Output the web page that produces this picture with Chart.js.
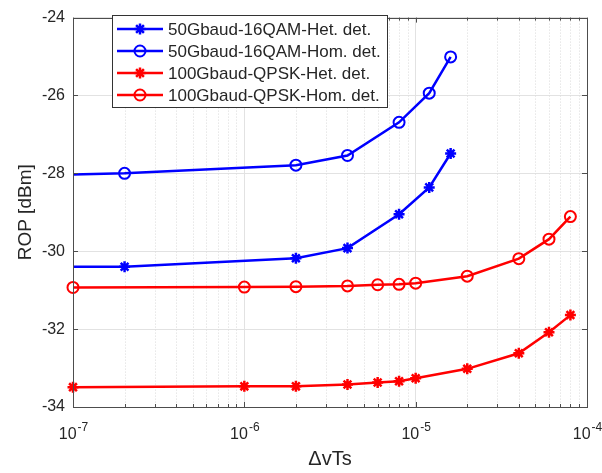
<!DOCTYPE html>
<html>
<head>
<meta charset="utf-8">
<script src="https://cdn.jsdelivr.net/npm/chart.js@4"></script>
<style>
  html, body { margin: 0; padding: 0; background: #fff; }
  canvas { display: block; }
</style>
</head>
<body>
<canvas id="chart" width="602" height="473"></canvas>
<script>
// Data (x = ΔvTs, y = ROP in dBm)
const qamX = [1e-8, 2e-7, 2e-6, 4e-6, 8e-6, 1.2e-5, 1.6e-5];
const qamHet = [-30.40, -30.40, -30.18, -29.92, -29.05, -28.36, -27.49];
const qamHom = [-28.13, -28.00, -27.79, -27.54, -26.69, -25.94, -25.01];

const qpskX = [1e-7, 1e-6, 2e-6, 4e-6, 6e-6, 8e-6, 1e-5, 2e-5, 4e-5, 6e-5, 8e-5];
const qpskHet = [-33.49, -33.47, -33.47, -33.42, -33.37, -33.34, -33.26, -33.02, -32.62, -32.08, -31.64];
const qpskHom = [-30.93, -30.92, -30.91, -30.89, -30.86, -30.85, -30.82, -30.64, -30.19, -29.69, -29.11];

const seriesLabels = [
    '50Gbaud-16QAM-Het. det.',
    '50Gbaud-16QAM-Hom. det.',
    '100Gbaud-QPSK-Het. det.',
    '100Gbaud-QPSK-Hom. det.'
];

const xDecades = [1e-7, 1e-6, 1e-5, 1e-4];
const yTicks = [-34, -32, -30, -28, -26, -24];

const FONT = '"Liberation Sans", Arial, Helvetica, sans-serif';
const TEXT = '#262626';
const GRID = '#e2e2e2';
const BLUE = '#0000ff';
const RED = '#ff0000';

const toPoints = (xs, ys) => xs.map((x, i) => ({ x: x, y: ys[i] }));

function series(label, xs, ys, color, style, clip) {
    return {
        label: label,
        data: toPoints(xs, ys),
        borderColor: color,
        backgroundColor: color,
        borderWidth: 2.5,
        pointStyle: style,
        pointRadius: style === 'circle' ? 5.5 : 5.5,
        pointBorderWidth: style === 'circle' ? 2 : 2.5,
        pointBackgroundColor: style === 'circle' ? 'rgba(0,0,0,0)' : color,
        pointBorderColor: color,
        tension: 0,
        fill: false,
        clip: clip
    };
}

// MATLAB-like box, inward ticks, dotted minor grid
const axesBox = {
    id: 'axesBox',
    beforeDatasetsDraw(chart) {
        const ctx = chart.ctx;
        const a = chart.chartArea;
        const xs = chart.scales.x;
        ctx.save();
        ctx.strokeStyle = '#dadada';
        ctx.lineWidth = 1;
        ctx.setLineDash([1, 2]);
        for (let n = -7; n <= -5; n++) {
            for (let k = 2; k <= 9; k++) {
                const px = Math.round(xs.getPixelForValue(k * Math.pow(10, n))) + 0.5;
                ctx.beginPath();
                ctx.moveTo(px, a.top);
                ctx.lineTo(px, a.bottom);
                ctx.stroke();
            }
        }
        ctx.restore();
    },
    afterDatasetsDraw(chart) {
        const ctx = chart.ctx;
        const a = chart.chartArea;
        const xs = chart.scales.x;
        const ys = chart.scales.y;
        ctx.save();
        ctx.strokeStyle = '#4d4d4d';
        ctx.lineWidth = 1;
        ctx.beginPath();
        for (let n = -7; n <= -5; n++) {
            for (let k = 2; k <= 9; k++) {
                const px = Math.round(xs.getPixelForValue(k * Math.pow(10, n))) + 0.5;
                ctx.moveTo(px, a.bottom); ctx.lineTo(px, a.bottom - 3);
                ctx.moveTo(px, a.top); ctx.lineTo(px, a.top + 3);
            }
        }
        xDecades.forEach(v => {
            const px = Math.round(xs.getPixelForValue(v)) + 0.5;
            ctx.moveTo(px, a.bottom); ctx.lineTo(px, a.bottom - 5);
            ctx.moveTo(px, a.top); ctx.lineTo(px, a.top + 5);
        });
        yTicks.forEach(v => {
            const py = Math.round(ys.getPixelForValue(v)) + 0.5;
            ctx.moveTo(a.left, py); ctx.lineTo(a.left + 5, py);
            ctx.moveTo(a.right, py); ctx.lineTo(a.right - 5, py);
        });
        ctx.stroke();
        ctx.strokeRect(Math.round(a.left) + 0.5, Math.round(a.top) + 0.5,
            Math.round(a.right - a.left), Math.round(a.bottom - a.top));

        // x tick labels as 10^n with superscript exponent
        ctx.fillStyle = TEXT;
        ctx.textBaseline = 'alphabetic';
        ctx.textAlign = 'left';
        xDecades.forEach(v => {
            const px = xs.getPixelForValue(v);
            const exp = String(Math.round(Math.log10(v)));
            ctx.font = '16px ' + FONT;
            const wb = ctx.measureText('10').width;
            ctx.font = '12px ' + FONT;
            const we = ctx.measureText(exp).width;
            const start = px - (wb + we) / 2;
            ctx.font = '16px ' + FONT;
            ctx.fillText('10', start, a.bottom + 32);
            ctx.font = '12px ' + FONT;
            ctx.fillText(exp, start + wb + 1, a.bottom + 24);
        });
        ctx.restore();
    }
};

// Legend box inside the axes, top left
const boxLegend = {
    id: 'boxLegend',
    afterDraw(chart) {
        const ctx = chart.ctx;
        const left = 112, top = 15, width = 275, height = 92;
        ctx.save();
        ctx.fillStyle = '#fff';
        ctx.fillRect(left, top, width, height);
        ctx.strokeStyle = '#333';
        ctx.lineWidth = 1;
        ctx.strokeRect(left + 0.5, top + 0.5, width, height);
        ctx.font = '17px ' + FONT;
        ctx.textBaseline = 'middle';
        ctx.textAlign = 'left';
        chart.data.datasets.forEach((ds, i) => {
            const y = top + 14 + i * 22;
            ctx.strokeStyle = ds.borderColor;
            ctx.lineWidth = ds.borderWidth;
            ctx.beginPath();
            ctx.moveTo(left + 5, y);
            ctx.lineTo(left + 51, y);
            ctx.stroke();
            ctx.fillStyle = ds.pointBackgroundColor;
            ctx.strokeStyle = ds.pointBorderColor;
            ctx.lineWidth = ds.pointBorderWidth;
            Chart.helpers.drawPoint(ctx, {
                pointStyle: ds.pointStyle,
                radius: ds.pointRadius,
                borderWidth: ds.pointBorderWidth,
                rotation: 0
            }, left + 28, y);
            ctx.fillStyle = TEXT;
            ctx.fillText(ds.label, left + 56, y + 1);
        });
        ctx.restore();
    }
};

document.addEventListener('DOMContentLoaded', () => {
    const ctx = document.getElementById('chart').getContext('2d');
    new Chart(ctx, {
        type: 'line',
        data: {
            datasets: [
                series(seriesLabels[0], qamX, qamHet, BLUE, 'star', undefined),
                series(seriesLabels[1], qamX, qamHom, BLUE, 'circle', undefined),
                series(seriesLabels[2], qpskX, qpskHet, RED, 'star', false),
                series(seriesLabels[3], qpskX, qpskHom, RED, 'circle', false)
            ]
        },
        options: {
            responsive: false,
            animation: false,
            events: [],
            layout: { padding: { top: 13, right: 15, left: 0, bottom: 0 } },
            plugins: {
                legend: { display: false },
                tooltip: { enabled: false }
            },
            scales: {
                x: {
                    type: 'logarithmic',
                    min: 1e-7,
                    max: 1e-4,
                    afterBuildTicks: scale => {
                        scale.ticks = xDecades.map(v => ({ value: v, major: true }));
                    },
                    afterFit: scale => { scale.height = 66; },
                    ticks: { display: false },
                    grid: { color: GRID, lineWidth: 1, drawTicks: false },
                    border: { display: false },
                    title: {
                        display: true,
                        text: 'ΔvTs',
                        color: TEXT,
                        font: { family: FONT, size: 20 },
                        padding: { top: 0, bottom: 2 }
                    }
                },
                y: {
                    min: -34,
                    max: -24,
                    afterBuildTicks: scale => {
                        scale.ticks = yTicks.map(v => ({ value: v }));
                    },
                    afterFit: scale => { scale.width = 73; },
                    ticks: {
                        color: TEXT,
                        padding: 8,
                        font: { family: FONT, size: 16 }
                    },
                    grid: { color: GRID, lineWidth: 1, drawTicks: false },
                    border: { display: false },
                    title: {
                        display: true,
                        text: 'ROP [dBm]',
                        color: TEXT,
                        font: { family: FONT, size: 19 },
                        padding: { top: 14, bottom: 0 }
                    }
                }
            }
        },
        plugins: [axesBox, boxLegend]
    });
});
</script>
</body>
</html>
